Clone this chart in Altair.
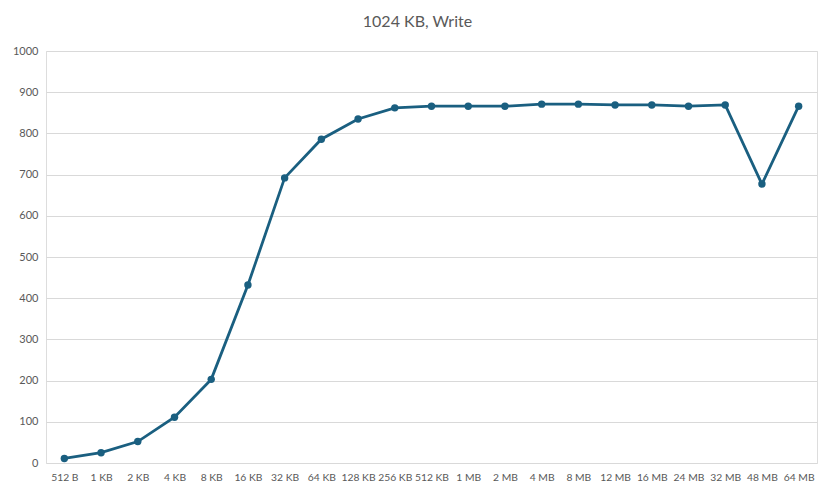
import altair as alt
import pandas as pd

categories = ["512 B", "1 KB", "2 KB", "4 KB", "8 KB", "16 KB", "32 KB", "64 KB",
              "128 KB", "256 KB", "512 KB", "1 MB", "2 MB", "4 MB", "8 MB", "12 MB",
              "16 MB", "24 MB", "32 MB", "48 MB", "64 MB"]
values = [11, 25, 52, 111, 203, 432, 692, 786, 835, 862, 866, 866, 866, 871, 871, 869,
          869, 866, 869, 677, 866]
y_ticks = [0, 100, 200, 300, 400, 500, 600, 700, 800, 900, 1000]

df = pd.DataFrame({"size": categories, "value": values})
color = "#1a5f80"
font = "Lato"

x = alt.X("size:N", sort=categories, title=None,
          scale=alt.Scale(paddingInner=0, paddingOuter=0),
          axis=alt.Axis(labelAngle=0, ticks=False, domain=False, labelPadding=9,
                        labelFontSize=10.3, labelColor="#595959", labelFont=font))
y = alt.Y("value:Q", title=None,
          scale=alt.Scale(domain=[0, 1000], nice=False),
          axis=alt.Axis(values=y_ticks, format="d", ticks=False, domain=False, labelPadding=8,
                        labelFontSize=11, labelColor="#595959", labelFont=font,
                        gridColor="#d9d9d9", gridWidth=1))

base = alt.Chart(df).encode(x=x, y=y)
line = base.mark_line(color=color, strokeWidth=2.8)
pts = base.mark_point(color=color, filled=True, opacity=1, size=55)

chart = (line + pts).properties(
    width=771, height=412,
    title=alt.TitleParams("1024 KB, Write", fontSize=16, color="#595959", font=font,
                          fontWeight="normal", anchor="middle", dx=-14, offset=15),
    autosize=alt.AutoSizeParams(type="none"),
    padding={"left": 38, "top": 43, "right": 10, "bottom": 26},
).configure_view(stroke=None).configure(background="white")

chart.save("out.html", embed_options={"renderer": "svg", "actions": False})
